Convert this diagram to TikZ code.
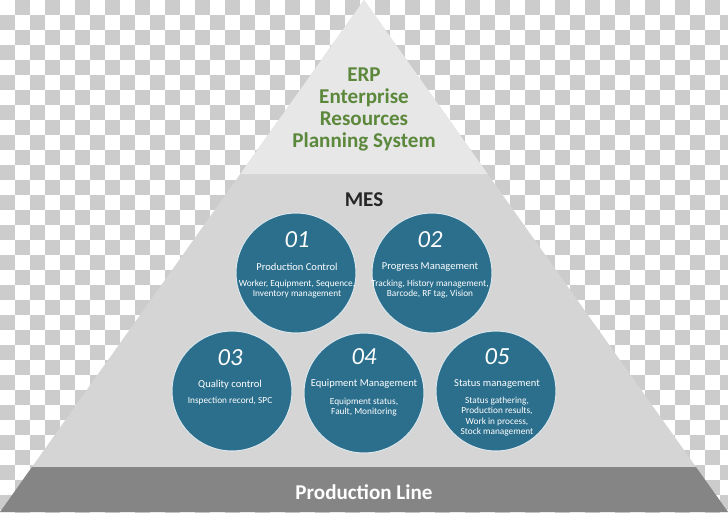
\documentclass[tikz,border=0pt]{standalone}
\usepackage{fontspec}
\setmainfont{Carlito}
\usepackage{xcolor}
\definecolor{erpgreen}{RGB}{92,136,60}
\definecolor{mesteal}{RGB}{43,111,141}
\definecolor{checkgray}{RGB}{204,204,204}
\definecolor{toplight}{RGB}{231,231,231}
\definecolor{midband}{RGB}{213,213,213}
\definecolor{baseband}{RGB}{133,133,133}
\usetikzlibrary{positioning}

\tikzset{
  module/.style={circle, fill=mesteal, draw=mesteal!18!white, line width=0.6pt,
    minimum size=2.4cm, inner sep=0pt},
  modnum/.style={font=\fontsize{14}{14}\selectfont\itshape, white},
  modtitle/.style={font=\fontsize{6}{7}\selectfont, white},
  moddetail/.style={font=\fontsize{5.3}{5.9}\selectfont, white, align=center},
  layertext/.style={font=\fontsize{12}{12.5}\selectfont\bfseries, align=center}
}

\begin{document}
\begin{tikzpicture}[x=0.02cm, y=-0.02cm]
      % Background (transparency checkerboard)
      \useasboundingbox (0,0) rectangle (728,512);
      \fill[white] (0,0) rectangle (728,512);
      \begin{scope}
        \clip (0,0) rectangle (728,512);
        \foreach \i in {0,...,48} {
          \foreach \j in {0,...,34} {
            \pgfmathtruncatemacro\odd{mod(\i+\j,2)}
            \ifnum\odd=1 \fill[checkgray] (\i*15,\j*15) rectangle ++(15,15); \fi
          }
        }
      \end{scope}

      % Pyramid layers
      \fill[midband]  (364,0) -- (728,512) -- (0,512) -- cycle;
      \fill[toplight] (364,0) -- (487.7,174) -- (240.3,174) -- cycle;
      \fill[baseband] (32,467) -- (696,467) -- (728,512) -- (0,512) -- cycle;

      % ERP
      \node[layertext, erpgreen] (erp) at (364,109)
        {ERP\\Enterprise\\Resources\\Planning System};

      % MES
      \node[layertext, black!85] (mes) at (364,200) {MES};

      % MES modules
      \node[module] (c1) at (296,273) {};
      \node[module] (c2) at (432,273) {};
      \node[module] (c3) at (232,391) {};
      \node[module] (c4) at (364,393) {};
      \node[module] (c5) at (496,391) {};

      \node[modnum] (n1) at (297,240) {01};
      \node[modtitle] (t1) at (297,267) {Production Control};
      \node[moddetail] (d1) at (297,289) {Worker, Equipment, Sequence,\\Inventory management};

      \node[modnum] (n2) at (430,240) {02};
      \node[modtitle] (t2) at (430,267) {Progress Management};
      \node[moddetail] (d2) at (430,289) {Tracking, History management,\\Barcode, RF tag, Vision};

      \node[modnum] (n3) at (230,358) {03};
      \node[modtitle] (t3) at (230,385) {Quality control};
      \node[moddetail] (d3) at (230,401) {Inspection record, SPC};

      \node[modnum] (n4) at (364,357) {04};
      \node[modtitle] (t4) at (364,384) {Equipment Management};
      \node[moddetail] (d4) at (364,407) {Equipment status,\\Fault, Monitoring};

      \node[modnum] (n5) at (497,357) {05};
      \node[modtitle] (t5) at (497,384) {Status management};
      \node[moddetail] (d5) at (497,416.5) {Status gathering,\\Production results,\\Work in process,\\Stock management};

      % Production line
      \node[layertext, white] (line) at (364,492) {Production Line};
    \end{tikzpicture}
\end{document}
